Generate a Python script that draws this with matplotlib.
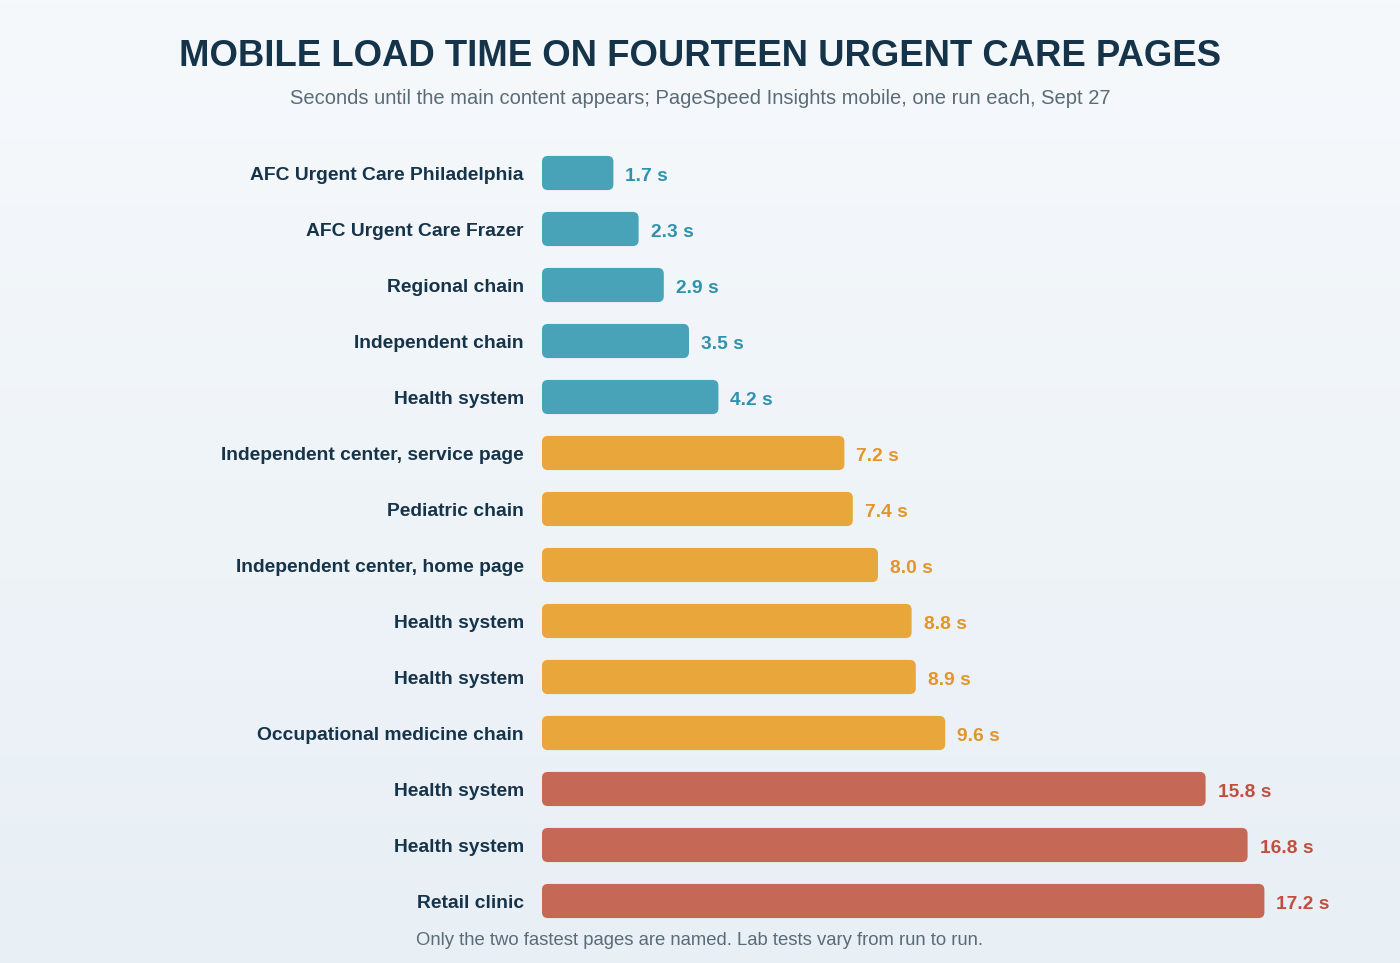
import numpy as np
import matplotlib.pyplot as plt
from matplotlib.patches import FancyBboxPatch

plt.rcParams['font.family'] = ['Liberation Sans', 'DejaVu Sans']

labels = ["AFC Urgent Care Philadelphia", "AFC Urgent Care Frazer", "Regional chain",
          "Independent chain", "Health system", "Independent center, service page",
          "Pediatric chain", "Independent center, home page", "Health system",
          "Health system", "Occupational medicine chain", "Health system",
          "Health system", "Retail clinic"]
seconds = [1.7, 2.3, 2.9, 3.5, 4.2, 7.2, 7.4, 8.0, 8.8, 8.9, 9.6, 15.8, 16.8, 17.2]
groups = ["fast"] * 5 + ["mid"] * 6 + ["slow"] * 3

bar_colors = {"fast": "#48a3b9", "mid": "#e9a73b", "slow": "#c66856"}
text_colors = {"fast": "#2e92ac", "mid": "#e2952a", "slow": "#c24e3d"}
navy = "#15344a"

fig = plt.figure(figsize=(14, 9.63), dpi=100)

# background gradient
bg = fig.add_axes([0, 0, 1, 1], zorder=-10)
grad = np.linspace(0, 1, 256).reshape(-1, 1)
bg.imshow(grad, aspect="auto", extent=[0, 1, 0, 1], origin="upper",
          cmap=plt.matplotlib.colors.LinearSegmentedColormap.from_list("bg", ["#f6f9fc", "#e8eff5"]))
bg.axis("off")

ax = fig.add_axes([542 / 1400, 1 - 929 / 963, 840 / 1400, 784 / 963])
ax.set_xlim(0, 20)
ax.set_ylim(len(seconds) - 0.5, -0.5)
ax.patch.set_alpha(0)
for s in ax.spines.values():
    s.set_visible(False)
ax.set_xticks([])
ax.set_yticks([])

h = 0.61
for i, (lab, v, g) in enumerate(zip(labels, seconds, groups)):
    box = FancyBboxPatch((0, i - h / 2), v, h,
                         boxstyle="round,pad=0,rounding_size=0.14",
                         mutation_aspect=0.75, facecolor=bar_colors[g],
                         edgecolor="none")
    ax.add_patch(box)
    ax.annotate(f"{v:.1f} s", (v, i), xytext=(12, -3), textcoords="offset pixels",
                va="center", ha="left", fontsize=13.8, fontweight="bold",
                color=text_colors[g])
    ax.annotate(lab, (0, i), xytext=(-18, -2), textcoords="offset pixels",
                va="center", ha="right", fontsize=13.85, fontweight="bold",
                color=navy, annotation_clip=False)

fig.text(0.5, 1 - 56 / 963, "MOBILE LOAD TIME ON FOURTEEN URGENT CARE PAGES",
         ha="center", va="center", fontsize=26.3, fontweight="bold", color=navy)
fig.text(0.5, 1 - 99 / 963,
         "Seconds until the main content appears; PageSpeed Insights mobile, one run each, Sept 27",
         ha="center", va="center", fontsize=14.5, color="#5a6b78")
fig.text(0.5, 1 - 940 / 963,
         "Only the two fastest pages are named. Lab tests vary from run to run.",
         ha="center", va="center", fontsize=13.3, color="#5a6b78")

fig.savefig("out.png", dpi=100)
